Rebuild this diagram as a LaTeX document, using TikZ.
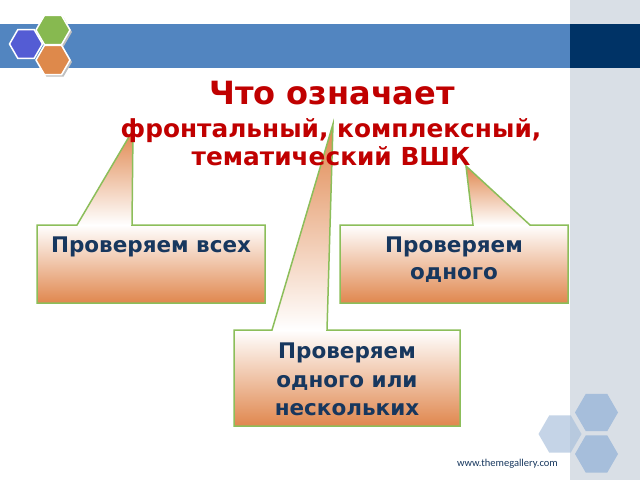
\documentclass[tikz,border=0pt]{standalone}
\usepackage{fontspec}
\setmainfont{DejaVu Sans}
\newfontfamily\wwwfont{Carlito}
\definecolor{barblue}{RGB}{82,133,192}
\definecolor{navy}{RGB}{0,51,102}
\definecolor{panel}{RGB}{217,223,230}
\definecolor{hexblue}{RGB}{84,92,212}
\definecolor{hexgreen}{RGB}{135,185,80}
\definecolor{hexorange}{RGB}{222,137,75}
\definecolor{titlered}{RGB}{192,0,0}
\definecolor{boxtext}{RGB}{23,55,94}
\definecolor{lineg}{RGB}{140,190,90}
\definecolor{orng}{RGB}{224,135,78}
\definecolor{peach}{RGB}{248,228,214}
\definecolor{pale}{RGB}{166,190,219}
\newcommand\hexa[4]{% color, cx, cy, r
  \path[#1] (#2,#3) +(0:#4) -- +(60:#4) -- +(120:#4) -- +(180:#4) -- +(240:#4) -- +(300:#4) -- cycle;}
\newcommand\callout[8]{% x1 y1 x2 y2 bl br tipx tipy
  \shade[top color=orng, bottom color=white] (#5,#2) -- (#7,#8) -- (#6,#2) -- cycle;
  \shade[top color=white, middle color=peach, bottom color=orng] (#1,#2) rectangle (#3,#4);
  \draw[calloutline] (#1,#2) -- (#5,#2) -- (#7,#8) -- (#6,#2) -- (#3,#2) -- (#3,#4) -- (#1,#4) -- cycle;}
\begin{document}
\begin{tikzpicture}[x=1pt,y=-1pt,
  calloutline/.style={draw=lineg, line width=1.5pt, line join=miter},
  boxlabel/.style={font=\bfseries\fontsize{21.5}{28}\selectfont, text=boxtext, align=center, inner sep=0pt, anchor=north},
  titletext/.style={font=\bfseries, text=titlered, align=center, inner sep=0pt}]
\useasboundingbox (0,0) rectangle (640,480);
\fill[white] (0,0) rectangle (640,480);
\fill[panel] (570,0) rectangle (640,480);
\fill[barblue] (0,24) rectangle (570,68);
\fill[navy] (570,24) rectangle (640,68);
% top-left hexagons
\hexa{fill=black!25}{55}{32}{17}
\hexa{fill=black!25}{55}{62}{17}
\hexa{fill=hexblue, draw=white, line width=1.5pt}{26}{44}{16.5}
\hexa{fill=hexgreen, draw=white, line width=1.5pt}{53}{30}{17}
\hexa{fill=hexorange, draw=white, line width=1.5pt}{53}{60}{17}
% bottom-right hexagons
\hexa{fill=pale}{596.5}{412.5}{21.5}
\hexa{fill=pale}{596.5}{454}{21.5}
\hexa{fill=pale, fill opacity=0.65}{560}{434}{21.5}
% callouts
\callout{37}{225}{265}{303}{77}{132}{133}{130}
\callout{340}{225}{568}{303}{473}{530}{466}{166}
\callout{234}{330}{460}{426}{272}{327}{333}{124}
% texts
\node[titletext, font=\bfseries\fontsize{32}{38}\selectfont, anchor=base] (title) at (332,104) {Что означает};
\node[titletext, font=\bfseries\fontsize{24.8}{28}\selectfont, anchor=base] (sub) at (331,165) {фронтальный, комплексный,\\тематический ВШК};
\node[boxlabel] (all) at (151,237) {Проверяем всех};
\node[boxlabel, font=\bfseries\fontsize{21.5}{27}\selectfont] (one) at (454,237) {Проверяем\\одного};
\node[boxlabel, font=\bfseries\fontsize{21.5}{28.5}\selectfont] (some) at (347,343) {Проверяем\\одного или\\нескольких};
\node[font=\wwwfont\fontsize{10.5}{12}\selectfont, text=boxtext, anchor=base east, inner sep=0pt] (www) at (558,466) {www.themegallery.com};
\end{tikzpicture}
\end{document}
